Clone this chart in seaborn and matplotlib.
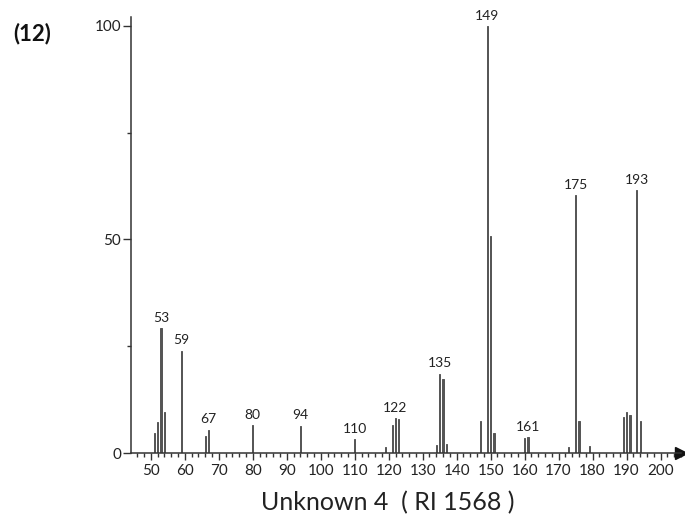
import numpy as np
import pandas as pd
import matplotlib
matplotlib.use("Agg")
import matplotlib.pyplot as plt
from matplotlib.ticker import MultipleLocator
import seaborn as sns

# mass spectrum of Unknown 4 (RI 1568)
mz = [51, 52, 53, 54, 59, 66, 67, 80, 94, 110, 119, 121, 122, 123,
      134, 135, 136, 137, 147, 149, 150, 151, 160, 161, 173, 175,
      176, 179, 189, 190, 191, 193, 194]
intensity = [4.8, 7.2, 29.3, 9.6, 24.0, 3.9, 5.5, 6.6, 6.4, 3.3, 1.4, 6.6, 8.2, 8.0,
             1.9, 18.6, 17.4, 2.2, 7.4, 100.0, 50.7, 4.7, 3.5, 3.7, 1.5, 60.3,
             7.6, 1.7, 8.4, 9.7, 9.0, 61.5, 7.4]
labelled = [53, 59, 67, 80, 94, 110, 122, 135, 149, 161, 175, 193]
x_ticks = list(range(50, 201, 10))
y_ticks = [0, 50, 100]

sns.set_theme(style="white")
plt.rcParams["font.family"] = ["Lato", "DejaVu Sans"]

df = pd.DataFrame({"mz": mz, "intensity": intensity})

fig = plt.figure(figsize=(6.85, 5.21), dpi=100)
ax = fig.add_axes([0.191, 0.1305, 0.803, 0.837])

sns.barplot(data=df, x="mz", y="intensity", native_scale=True, width=0.35,
            color="#555555", saturation=1, edgecolor="#555555", linewidth=0.7,
            ax=ax)

# peak labels above the bars
for m, v in zip(mz, intensity):
    if m in labelled:
        ax.text(m, v + 1.0, str(m), ha="center", va="bottom",
                fontsize=10, color="#222222")

ax.set_xlim(44.1, 206)
ax.set_ylim(0, 102.1)
ax.set_xlabel("")
ax.set_ylabel("")

for s in ["top", "right"]:
    ax.spines[s].set_visible(False)
for s in ["left", "bottom"]:
    ax.spines[s].set_color("#333333")
    ax.spines[s].set_linewidth(1.1)

ax.set_xticks(x_ticks)
ax.xaxis.set_minor_locator(MultipleLocator(2))
ax.set_yticks(y_ticks)
ax.yaxis.set_minor_locator(MultipleLocator(25))
ax.tick_params(axis="x", which="major", direction="out", length=5, width=1,
               color="#333333", labelsize=11, pad=3, bottom=True)
ax.tick_params(axis="x", which="minor", direction="out", length=3, width=1,
               color="#333333", bottom=True)
ax.tick_params(axis="y", which="major", direction="out", length=6, width=1,
               color="#333333", labelsize=11, pad=1, left=True)
ax.tick_params(axis="y", which="minor", direction="out", length=3, width=1,
               color="#333333", left=True)
for lab in ax.get_xticklabels() + ax.get_yticklabels():
    lab.set_color("#222222")

# arrow head at the end of the x axis
ax.plot(1, 0, ">", color="#111111", markersize=8, transform=ax.transAxes,
        clip_on=False)

fig.text(0.566, 0.035, "Unknown 4  ( RI 1568 )", ha="center", va="center",
         fontsize=18, color="#222222")
fig.text(0.047, 0.936, "(12)", ha="center", va="center", fontsize=16,
         fontweight="bold", color="#111111")

fig.savefig("out.png", dpi=100)
